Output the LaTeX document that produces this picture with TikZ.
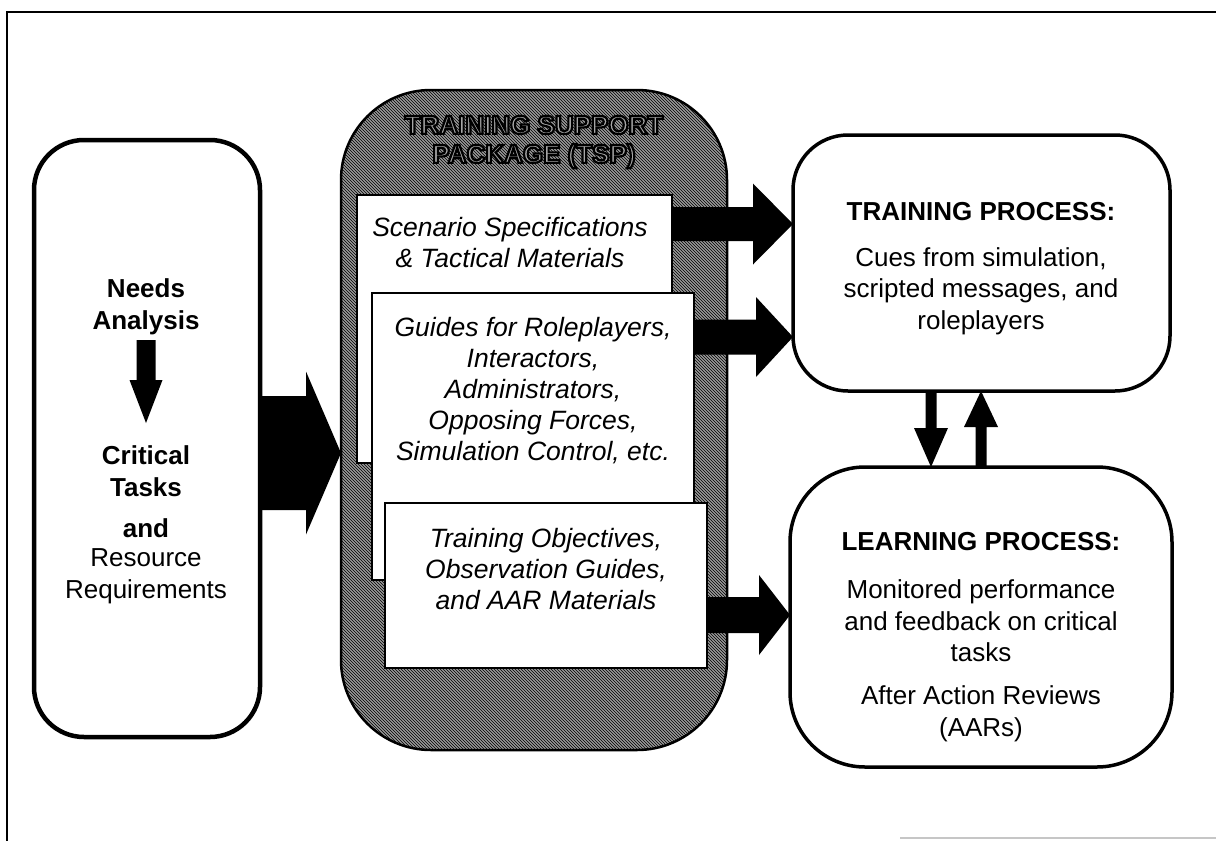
\documentclass[tikz,border=0pt]{standalone}
\usepackage{fontspec}
\setmainfont{Liberation Sans}
\usetikzlibrary{calc,patterns}
% block arrow: start, tip, shaft half width, head half width, head length
\newcommand\blockarrow[5]{%
  \path ($(#2)!#5pt!(#1)$) coordinate (hb);
  \fill ($(#1)!#3pt!90:(#2)$) -- ($(hb)!#3pt!90:(#2)$) -- ($(hb)!#4pt!90:(#2)$) -- (#2)
     -- ($(hb)!#4pt!-90:(#2)$) -- ($(hb)!#3pt!-90:(#2)$) -- ($(#1)!#3pt!-90:(#2)$) -- cycle;}
% outlined title text
\newcommand\outlinetext[1]{{\color{black!35}\special{pdf:literal direct 0 G 2 Tr 2.2 w}#1\special{pdf:literal direct 0 Tr}}}
\begin{document}
\begin{tikzpicture}[x=1pt,y=-1pt,
  boxbase/.style={draw, fill=white, inner sep=0pt, outer sep=0pt, anchor=north west},
  procbox/.style={boxbase, line width=3.5pt},
  cardbox/.style={boxbase, line width=2.2pt},
  txt/.style={font=\fontsize{26}{31.5}\selectfont, align=center, inner sep=0pt},
  btxt/.style={font=\bfseries\fontsize{26}{31.5}\selectfont, align=center, inner sep=0pt},
  itxt/.style={font=\itshape\fontsize{26.5}{31}\selectfont, align=center, inner sep=0pt}]
\useasboundingbox (0,0) rectangle (1216,841);

% frame
\draw[line width=2.5pt] (7,841) -- (7,12) -- (1216,12);
\draw[gray!45, line width=1.5pt] (900,838) -- (1216,838);

% left box
\node[boxbase, line width=4.5pt, rounded corners=50pt, minimum width=226pt, minimum height=597pt] (left) at (34,140) {};
\node[btxt] (needs) at (146,307) {Needs\\Analysis};
\node[btxt] (crit) at (146,471) {Critical\\Tasks};
\node[btxt] (and) at (146,528) {and};
\node[txt] (res) at (146,576) {Resource\\Requirements};
\coordinate (na1) at (146,340);
\coordinate (na2) at (146,423);
\blockarrow{na1}{na2}{9.5}{16.5}{43}

% TSP container
\node[boxbase, line width=2.5pt, rounded corners=90pt, fill=black!40,
      postaction={pattern=north west lines, pattern color=black},
      minimum width=386pt, minimum height=660pt] (tsp) at (341,90) {};
\node[font=\bfseries\fontsize{26}{29}\selectfont, align=center, inner sep=0pt] (tsptitle) at (534,142)
  {\outlinetext{TRAINING SUPPORT}\\\outlinetext{PACKAGE (TSP)}};

% cards
\node[cardbox, minimum width=315pt, minimum height=268pt] (card1) at (357,195) {};
\node[cardbox, minimum width=322pt, minimum height=287pt] (card2) at (372,293) {};
\node[cardbox, minimum width=322pt, minimum height=165pt] (card3) at (385,503) {};
\node[itxt] (c1t) at (510,243) {Scenario Specifications\\\& Tactical Materials};
\node[itxt] (c2t) at (533,391) {Guides for Roleplayers,\\Interactors,\\Administrators,\\Opposing Forces,\\Simulation Control, etc.};
\node[itxt] (c3t) at (546,569) {Training Objectives,\\Observation Guides,\\and AAR Materials};

% process boxes
\node[procbox, rounded corners=55pt, minimum width=377pt, minimum height=256pt] (train) at (793,135) {};
\node[btxt] (trt) at (981,212) {TRAINING PROCESS:};
\node[txt] (trb) at (981,291) {Cues from simulation,\\scripted messages, and\\roleplayers};

\node[procbox, rounded corners=75pt, minimum width=382pt, minimum height=300pt] (learn) at (790,467) {};
\node[btxt] (lrt) at (981,542) {LEARNING PROCESS:};
\node[txt] (lrb) at (981,621) {Monitored performance\\and feedback on critical\\tasks};
\node[txt] (lra) at (981,714) {After Action Reviews\\(AARs)};

% arrow tips
\coordinate (t0) at ([yshift=-363pt]tsp.north west);
\coordinate (t1) at ([yshift=-89pt]train.north west);
\coordinate (t2) at ([yshift=-202pt]train.north west);
\coordinate (t3) at ([yshift=-148pt]learn.north west);
\coordinate (d1) at ([xshift=138pt]train.south west);
\coordinate (u1) at ([xshift=191pt]learn.north west);

\blockarrow{left.east |- t0}{t0}{57}{81.5}{35}
\blockarrow{card1.east |- t1}{t1}{17}{40.5}{40}
\blockarrow{card2.east |- t2}{t2}{17.5}{40}{37}
\blockarrow{card3.east |- t3}{t3}{18}{40}{31}
\blockarrow{d1}{d1 |- learn.north}{5.5}{17}{39}
\blockarrow{u1}{u1 |- train.south}{5.5}{17}{36}
\end{tikzpicture}
\end{document}
